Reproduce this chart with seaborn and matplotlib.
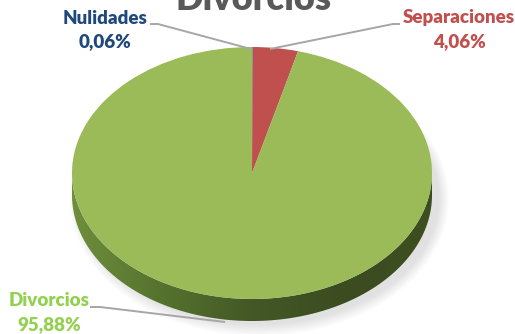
import numpy as np
import matplotlib.pyplot as plt
import matplotlib.colors as mcolors
from matplotlib.patches import Polygon, Ellipse
import seaborn as sns

sns.set_theme(style="white")
plt.rcParams['font.family'] = ['Lato', 'DejaVu Sans']

categorias = ['Nulidades', 'Separaciones', 'Divorcios']
porcentajes = [0.06, 4.06, 95.88]
etiquetas = ['0,06%', '4,06%', '95,88%']
colores = ['#4f81bd', '#c0504d', '#9bbb59']
colores_texto = ['#1f497d', '#c0504d', '#92d050']
titulo = 'Divorcios'

W, H = 515, 334
cx, cy, rx, ry = 252, 173, 180, 126
prof = 22 / ry


def px(x, y):
    # pixel de la imagen -> coordenadas del pastel (radio 1)
    return (x - cx) / rx, (cy - y) / ry


fig = plt.figure(figsize=(W / 100, H / 100), dpi=100)
ax = fig.add_axes([0, 0, 1, 1])

# sombra suave
for i in range(10):
    ax.add_patch(Ellipse((0.04, -prof - 0.03), 2.0 + i * 0.012, 2.0 + i * 0.02,
                         color='#808080', alpha=0.025, lw=0, zorder=0))

# lateral del pastel con degradado
t = np.linspace(np.pi, 2 * np.pi, 300)
arriba = np.column_stack([np.cos(t), np.sin(t)])
abajo = np.column_stack([np.cos(t), np.sin(t) - prof])[::-1]
lateral = Polygon(np.vstack([arriba, abajo]), closed=True, facecolor='none', edgecolor='none')
ax.add_patch(lateral)
cmap = mcolors.LinearSegmentedColormap.from_list('lado', ['#6e8f3c', '#55722e', '#435826', '#3c4c20', '#3d4e21'])
grad = np.linspace(0, 1, 256)[None, :]
img = ax.imshow(grad, cmap=cmap, extent=(-1, 1, -1 - prof, 0), aspect='auto', zorder=1)
img.set_clip_path(lateral)

# cara superior
ax.pie(porcentajes, colors=colores, startangle=90, counterclock=False, radius=1,
       center=(0, 0), wedgeprops=dict(linewidth=0, zorder=2))

ax.set_aspect('auto')
ax.set_xlim(-cx / rx, (W - cx) / rx)
ax.set_ylim((cy - H) / ry, cy / ry)
ax.axis('off')

# lineas guia
guias = [
    [(150, 24), (158, 24), (251, 49)],
    [(400, 24), (393, 24), (270, 49)],
    [(90, 307), (100, 307), (225, 322)],
]
for g in guias:
    xs, ys = zip(*[px(x, y) for x, y in g])
    ax.plot(xs, ys, color='#a6a6a6', lw=1.4, zorder=3, solid_capstyle='butt')

# textos
pos = [(105, 18, 42), (459, 18, 42), (49, 301, 325)]
for cat, et, col, (x, y1, y2) in zip(categorias, etiquetas, colores_texto, pos):
    fig.text(x / W, 1 - y1 / H, cat, color=col, fontsize=13.5, fontweight='heavy', ha='center', va='center')
    fig.text(x / W, 1 - y2 / H, et, color=col, fontsize=13.5, fontweight='heavy', ha='center', va='center')

fig.text(253 / W, 1 - 10 / H, titulo, color='#595959', fontsize=26, fontweight='heavy', ha='center', va='baseline')

fig.savefig('out.png', dpi=100)
